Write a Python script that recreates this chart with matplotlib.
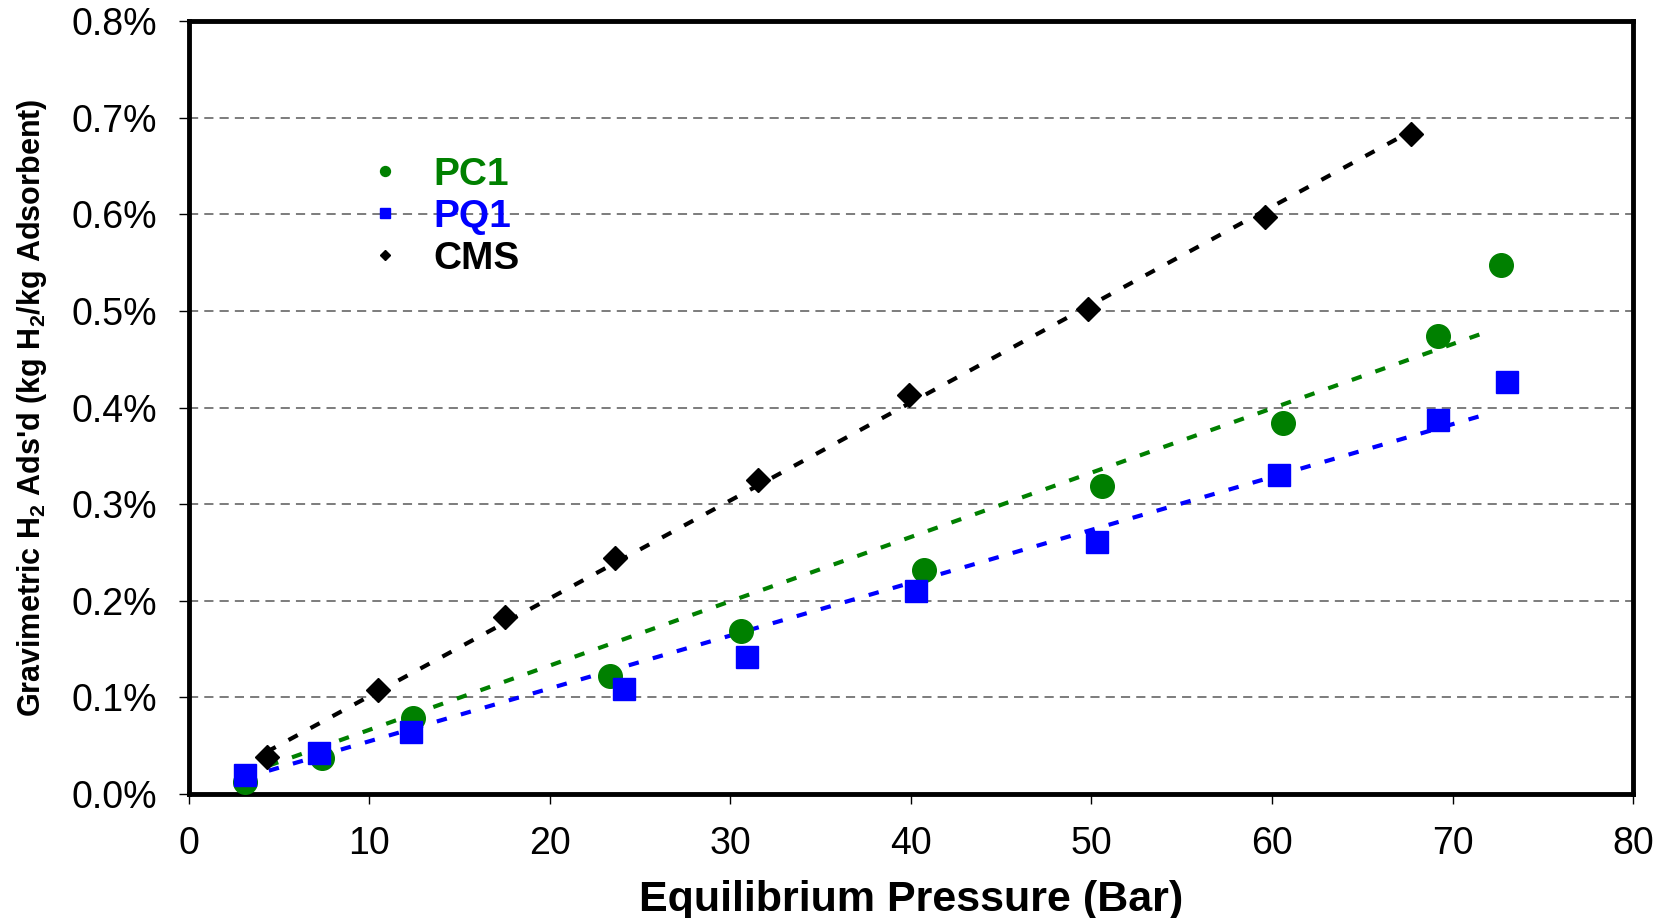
import numpy as np
import matplotlib
matplotlib.use("Agg")
import matplotlib.pyplot as plt
from matplotlib.ticker import FuncFormatter

plt.rcParams['font.family'] = ['Liberation Sans', 'DejaVu Sans']
plt.rcParams['mathtext.fontset'] = 'custom'
plt.rcParams['mathtext.rm'] = 'Liberation Sans:bold'
plt.rcParams['mathtext.default'] = 'rm'

# data, pressure in bar, uptake in wt %
pc1_p = [3.1, 7.35, 12.4, 23.3, 30.6, 40.7, 50.6, 60.6, 69.2, 72.7]
pc1_w = [0.013, 0.037, 0.079, 0.122, 0.169, 0.232, 0.319, 0.384, 0.474, 0.548]

pq1_p = [3.1, 7.2, 12.3, 24.1, 30.9, 40.3, 50.3, 60.4, 69.2, 73.0]
pq1_w = [0.020, 0.042, 0.064, 0.109, 0.142, 0.210, 0.261, 0.330, 0.387, 0.426]

cms_p = [4.3, 10.5, 17.5, 23.6, 31.5, 39.9, 49.8, 59.6, 67.7]
cms_w = [0.038, 0.108, 0.183, 0.244, 0.325, 0.413, 0.502, 0.597, 0.683]

series = [
    ('PC1', pc1_p, pc1_w, 'green', 'o', 17, 72),
    ('PQ1', pq1_p, pq1_w, 'blue', 's', 16, 72),
    ('CMS', cms_p, cms_w, 'black', 'D', 12, None),
]

fig = plt.figure(figsize=(16.66, 9.18), dpi=100)
ax = fig.add_axes([0.1134, 0.135, 0.8668, 0.842])

for name, p, w, c, m, ms, xend in series:
    p = np.array(p)
    w = np.array(w)
    ax.plot(p, w, linestyle='none', marker=m, color=c, markersize=ms,
            label=name, zorder=3)
    # linear trendline through the origin
    k = np.sum(p * w) / np.sum(p * p)
    x1 = p.max() if xend is None else xend
    xx = np.array([p.min(), x1])
    ax.plot(xx, k * xx, color=c, lw=3, linestyle=(0, (2.5, 3.5)), zorder=2)

ax.set_xlim(0, 80)
ax.set_ylim(0, 0.8)
ax.set_xticks(np.arange(0, 81, 10))
ax.set_yticks(np.arange(0, 0.81, 0.1))
ax.yaxis.set_major_formatter(FuncFormatter(lambda v, pos: f'{v:.1f}%'))
ax.tick_params(labelsize=27, length=7, width=1, direction='out')
ax.tick_params(axis='y', pad=16)
ax.tick_params(axis='x', pad=16)
ax.yaxis.grid(True, color='0.35', lw=1.1, linestyle=(0, (6, 4)))
ax.set_axisbelow(True)
for s in ax.spines.values():
    s.set_linewidth(3.5)

ax.set_xlabel('Equilibrium Pressure (Bar)', fontsize=31, fontweight='bold',
              labelpad=13)
ax.set_ylabel("Gravimetric H$_2$ Ads'd (kg H$_2$/kg Adsorbent)", fontsize=22,
              fontweight='bold', labelpad=16)

leg = ax.legend(loc='upper left', bbox_to_anchor=(0.106, 0.85), frameon=False,
                markerscale=0.42, handlelength=1.2, borderpad=0,
                handletextpad=0.66, labelspacing=0.16,
                prop={'weight': 'bold', 'size': 28})
for t, (_, _, _, c, _, _, _) in zip(leg.get_texts(), series):
    t.set_color(c)

fig.savefig('out.png', dpi=100)
